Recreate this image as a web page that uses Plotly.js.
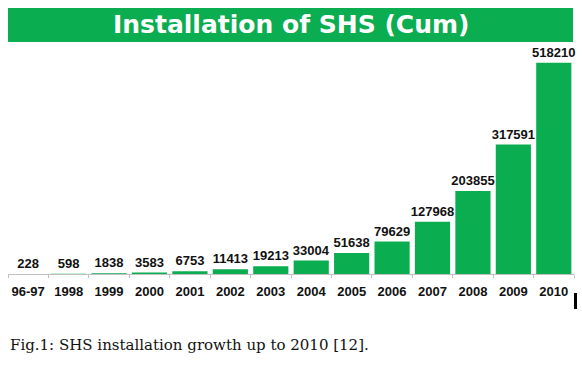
<!DOCTYPE html>
<html>
<head>
<meta charset="utf-8">
<script src="https://cdn.plot.ly/plotly-3.0.1.min.js"></script>
<style>html,body{margin:0;padding:0;background:#fff;}#chart{width:582px;height:373px;}</style>
</head>
<body>
<div id="chart"></div>
<script>
const categories = ["96-97","1998","1999","2000","2001","2002","2003","2004","2005","2006","2007","2008","2009","2010"];
const installs = [228,598,1838,3583,6753,11413,19213,33004,51638,79629,127968,203855,317591,518210];
const labels = installs.map(String);
const chartTitle = "Installation of SHS (Cum)";
const caption = "Fig.1: SHS installation growth up to 2010 [12].";

const green = "#0aad4f";
const H = 236, base = 274, L = 8, W = 566;
const py = y => (base - y) / H;
const px = x => (x - L) / W;

const trace = {
  type: "bar",
  x: categories,
  y: installs,
  text: labels,
  textposition: "outside",
  constraintext: "none",
  cliponaxis: false,
  marker: {color: green},
  textfont: {family: "Liberation Sans, Arial, sans-serif", size: 13, color: "#111", weight: "bold"},
  hoverinfo: "none"
};

const layout = {
  width: 582, height: 373,
  margin: {l: 8, r: 8, t: 38, b: 99, pad: 0},
  paper_bgcolor: "#fff", plot_bgcolor: "#fff",
  showlegend: false,
  bargap: 0.13,
  xaxis: {
    type: "category",
    tickangle: 0,
    ticklabelstandoff: 5,
    showline: true, linecolor: "#c0c0c0", linewidth: 1,
    ticks: "outside", tickson: "boundaries", ticklen: 3, tickcolor: "#c0c0c0",
    tickfont: {family: "Liberation Sans, Arial, sans-serif", size: 13, color: "#111", weight: "bold"},
    showgrid: false, zeroline: false, fixedrange: true
  },
  yaxis: {visible: false, range: [0, 578800], fixedrange: true},
  shapes: [
    {type: "rect", xref: "paper", yref: "paper", x0: px(8), x1: px(573), y0: py(42), y1: py(8),
     fillcolor: green, line: {width: 0}, layer: "below"},
    {type: "rect", xref: "paper", yref: "paper", x0: px(574), x1: px(577), y0: py(309), y1: py(293),
     fillcolor: "#000", line: {width: 0}}
  ],
  annotations: [
    {text: chartTitle, xref: "paper", yref: "paper", x: px(290.5), y: py(25), xanchor: "center", yanchor: "middle",
     showarrow: false, font: {family: "DejaVu Sans, sans-serif", size: 25, color: "#fff", weight: "bold"}},
    {text: caption, xref: "paper", yref: "paper", x: px(8), y: py(345), xanchor: "left", yanchor: "middle",
     showarrow: false, font: {family: "DejaVu Serif, serif", size: 15, color: "#111"}}
  ]
};

Plotly.newPlot("chart", [trace], layout, {displayModeBar: false, staticPlot: true});
</script>
</body>
</html>
